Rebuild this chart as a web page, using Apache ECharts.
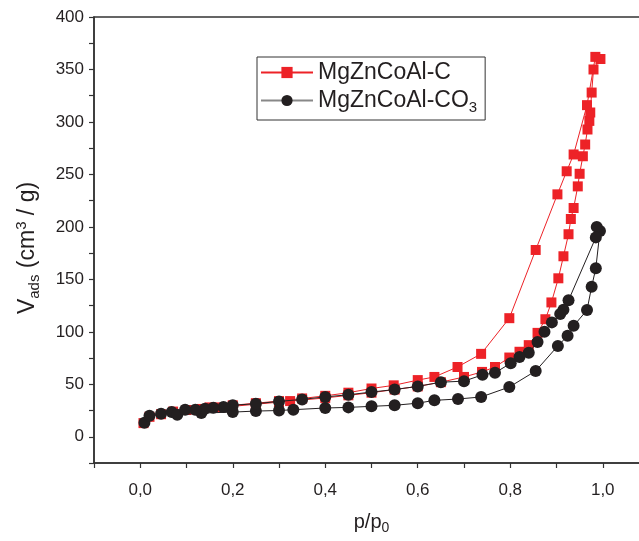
<!DOCTYPE html>
<html><head><meta charset="utf-8">
<script src="https://cdn.jsdelivr.net/npm/echarts@6/dist/echarts.min.js"></script>
<style>html,body{margin:0;padding:0;background:#fff}#c{width:639px;height:541px}</style>
</head><body><div id="c"></div>
<script>
// Series names
const seriesNames = ['MgZnCoAl-C', 'MgZnCoAl-CO3'];

// MgZnCoAl-C adsorption branch
const cAdsP = [0.007,0.02,0.045,0.071,0.1,0.133,0.164,0.2,0.25,0.3,0.324,0.4,0.45,0.5,0.55,0.6,0.65,0.7,0.739,0.767,0.798,0.82,0.84,0.859,0.876,0.889,0.904,0.915,0.926,0.931,0.937,0.946,0.95,0.957,0.962,0.967,0.971,0.973,0.976,0.98,0.995];
const cAdsV = [13,19,21.5,24,25.5,26.5,28,29,31,33,34,37,39.5,42,45,48,52,57,61.8,66.5,75.5,81,87.3,99,112,128,151,172,193,207.5,218,238.6,250.6,267.3,278.5,292.8,301,309,328,350,360];
// MgZnCoAl-C desorption branch
const cDesP = [0.984,0.966,0.937,0.922,0.902,0.855,0.798,0.737,0.686,0.636,0.6,0.548,0.5,0.45,0.4,0.35,0.3,0.25,0.2,0.15];
const cDesV = [362,316,269,253,231,178,113,79,66.5,57,54,49,46,42,39,36.5,34,32,30,28];

// MgZnCoAl-CO3 adsorption branch
const co3AdsP = [0.009,0.02,0.045,0.068,0.08,0.132,0.2,0.25,0.3,0.331,0.4,0.45,0.5,0.55,0.6,0.636,0.687,0.737,0.798,0.855,0.903,0.924,0.937,0.966,0.976,0.985,0.994];
const co3AdsV = [13.4,20,22,23.5,21,22.6,23.5,24.5,25,25.8,27.4,28,29,30,32,34.7,36,37.9,47.4,62.7,86.6,96.2,105.7,120.7,143,160.6,196];
// MgZnCoAl-CO3 desorption branch
const co3DesP = [0.987,0.985,0.926,0.915,0.908,0.89,0.874,0.859,0.84,0.82,0.801,0.767,0.74,0.7,0.65,0.6,0.55,0.5,0.45,0.4,0.35,0.3,0.25,0.2,0.18,0.158,0.14,0.119,0.097];
const co3DesV = [200,190,130,121,117,109,100,90.4,80,76,70,61,59,53,52,48,45,42.6,40,38,35.6,33.7,31.5,30,28.3,27.7,26.8,25.8,25.8];

// Axis tick settings
const xMin = -0.1, xMax = 1.1, xStep = 0.1;
const yMin = -25, yMax = 400, yStep = 25;

function pairs(p, v) { return p.map((x, i) => [x, v[i]]); }
const cData = pairs(cAdsP, cAdsV).concat(pairs(cDesP, cDesV));
const co3Data = pairs(co3AdsP, co3AdsV).concat(pairs(co3DesP, co3DesV));

const FONT = '"Liberation Sans", Arial, sans-serif';
const TXT = '#231f20';
const chart = echarts.init(document.getElementById('c'), null, {renderer: 'canvas'});
chart.setOption({
  animation: false,
  backgroundColor: '#fff',
  grid: {left: 94, top: 17, width: 555, height: 446, outerBoundsMode: 'none', containLabel: false,
         show: true, borderColor: '#333', borderWidth: 1.5, backgroundColor: 'transparent'},
  legend: {
    orient: 'vertical', left: 257, top: 57,
    padding: [4, 8, 5, 3], itemGap: 5, itemWidth: 52, itemHeight: 14,
    borderColor: '#333', borderWidth: 1,
    data: [{name: seriesNames[0]}, {name: seriesNames[1], lineStyle: {color: '#888'}}],
    formatter: n => n === 'MgZnCoAl-CO3' ? 'MgZnCoAl-CO{sub|3}' : n,
    textStyle: {fontFamily: FONT, fontSize: 23, color: TXT,
      rich: {sub: {fontFamily: FONT, fontSize: 15, color: TXT, padding: [14, 0, 0, 0]}}}
  },
  xAxis: {
    type: 'value', min: xMin, max: xMax, interval: xStep,
    name: 'p/p{sub|0}', nameLocation: 'middle', nameGap: 46,
    nameTextStyle: {fontFamily: FONT, fontSize: 20, color: TXT,
      rich: {sub: {fontFamily: FONT, fontSize: 14, color: TXT, padding: [12, 0, 0, 0]}}},
    axisLine: {show: true, onZero: false, lineStyle: {color: '#333', width: 1.5}},
    axisTick: {show: true, inside: false, length: 5, lineStyle: {color: '#333', width: 1.2}},
    splitLine: {show: false},
    axisLabel: {fontFamily: FONT, fontSize: 17, color: TXT, margin: 19,
      formatter: v => { const k = Math.round(v * 10); return (k >= 0 && k % 2 === 0) ? (k / 10).toFixed(1).replace('.', ',') : ''; }}
  },
  yAxis: {
    type: 'value', min: yMin, max: yMax, interval: yStep,
    name: 'V{sub|ads} (cm{sup|3} / g)', nameLocation: 'middle', nameGap: 52, nameRotate: 90,
    nameTextStyle: {fontFamily: FONT, fontSize: 23, color: TXT, padding: [0, 16, 0, 0],
      rich: {sub: {fontFamily: FONT, fontSize: 15, color: TXT, padding: [13, 0, 0, 0]},
             sup: {fontFamily: FONT, fontSize: 15, color: TXT, padding: [0, 0, 13, 0]}}},
    axisLine: {show: true, onZero: false, lineStyle: {color: '#333', width: 1.5}},
    axisTick: {show: true, inside: false, length: 5, lineStyle: {color: '#333', width: 1.2}},
    splitLine: {show: false},
    axisLabel: {fontFamily: FONT, fontSize: 17, color: TXT, margin: 10,
      formatter: v => (v >= 0 && Math.round(v) % 50 === 0) ? String(Math.round(v)) : ''}
  },
  series: [
    {name: seriesNames[0], type: 'line', data: cData, symbol: 'rect', symbolSize: 10,
     itemStyle: {color: '#ed2227'}, lineStyle: {color: '#ed2227', width: 1}, z: 2},
    {name: seriesNames[1], type: 'line', data: co3Data, symbol: 'circle', symbolSize: 12,
     itemStyle: {color: '#231f20'}, lineStyle: {color: '#231f20', width: 1}, z: 3}
  ]
});
</script></body></html>
